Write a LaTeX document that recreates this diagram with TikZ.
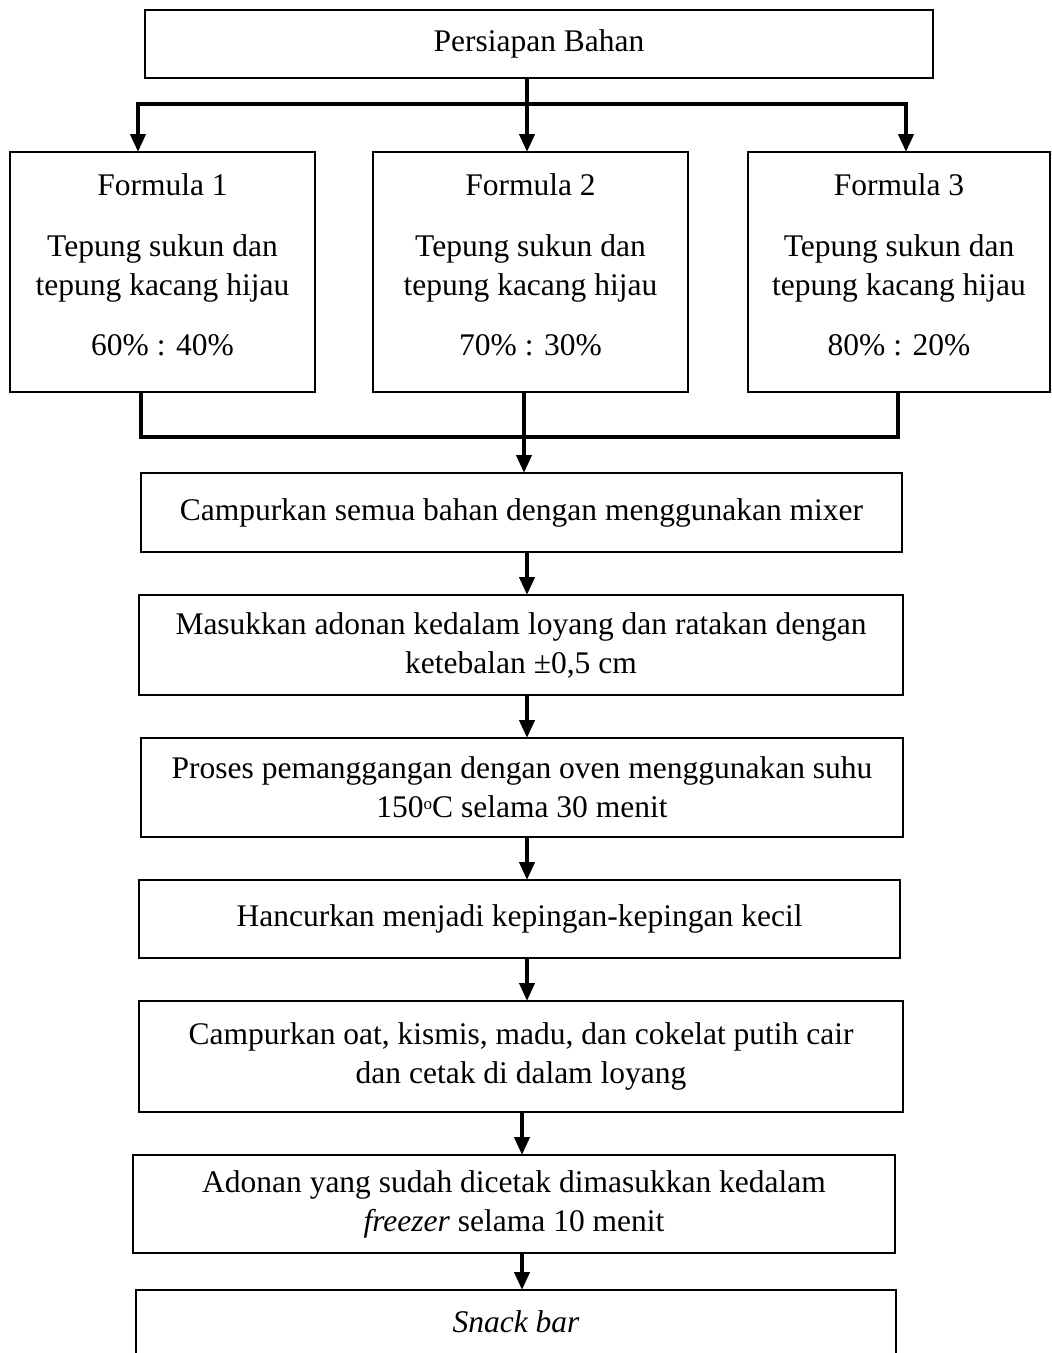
\documentclass[tikz,border=0pt]{standalone}
\usepackage{fontspec}
\setmainfont{Liberation Serif}
\usetikzlibrary{arrows.meta}
\newcommand{\degsup}{\raisebox{0.55ex}{\fontsize{17}{17}\selectfont o}}
\begin{document}
\begin{tikzpicture}[x=1pt,y=-1pt,
  box/.style={draw,line width=1.5pt,inner sep=0pt,outer sep=0pt,align=center,
    font=\fontsize{31.5}{39}\selectfont},
  txt/.style={inner sep=0pt,align=center,font=\fontsize{31.5}{39}\selectfont},
  conn/.style={line width=4pt},
  arr/.style={line width=4pt,-{Triangle[width=15pt,length=18pt]}}]
\useasboundingbox (0,0) rectangle (1052,1353);
\clip (0,0) rectangle (1052,1353);
\fill[white] (0,0) rectangle (1052,1353);
% boxes
\node[box,minimum width=788pt,minimum height=68pt] (top) at (539,44) {Persiapan Bahan};
\node[box,minimum width=305pt,minimum height=240pt] (f1) at (162.5,272) {};
\node[box,minimum width=315pt,minimum height=240pt] (f2) at (530.5,272) {};
\node[box,minimum width=302pt,minimum height=240pt] (f3) at (899,272) {};
\node[txt] (t1) at (162.5,265) {Formula 1\\[22pt]Tepung sukun dan\\tepung kacang hijau\\[21pt]60\% : 40\%};
\node[txt] (t2) at (530.5,265) {Formula 2\\[22pt]Tepung sukun dan\\tepung kacang hijau\\[21pt]70\% : 30\%};
\node[txt] (t3) at (899,265) {Formula 3\\[22pt]Tepung sukun dan\\tepung kacang hijau\\[21pt]80\% : 20\%};
\node[box,minimum width=761pt,minimum height=79pt] (c1) at (521.5,512.5) {Campurkan semua bahan dengan menggunakan mixer};
\node[box,minimum width=764pt,minimum height=100pt] (c2) at (521,645) {Masukkan adonan kedalam loyang dan ratakan dengan\\ketebalan ±0,5 cm};
\node[box,minimum width=762pt,minimum height=99pt] (c3) at (522,787.5) {Proses pemanggangan dengan oven menggunakan suhu\\150\degsup C selama 30 menit};
\node[box,minimum width=761pt,minimum height=78pt] (c4) at (519.5,919) {Hancurkan menjadi kepingan-kepingan kecil};
\node[box,minimum width=764pt,minimum height=111pt] (c5) at (521,1056.5) {Campurkan oat, kismis, madu, dan cokelat putih cair\\dan cetak di dalam loyang};
\node[box,minimum width=762pt,minimum height=98pt] (c6) at (514,1204) {Adonan yang sudah dicetak dimasukkan kedalam\\\textit{freezer} selama 10 menit};
\node[box,draw=none,minimum width=760pt,minimum height=64pt,anchor=north] (c7) at (516,1290) {\textit{Snack bar}};
\node[box,draw=none,minimum width=760pt,minimum height=120pt,anchor=north] (c7b) at (516,1290) {};
\draw[line width=1.5pt] (c7b.south west) -- (c7b.north west) -- (c7b.north east) -- (c7b.south east);
% split connectors
\coordinate (j0) at (527,104);
\coordinate (jL) at (138,104);
\coordinate (jR) at (906,104);
\draw[conn] (top.south -| j0) -- (j0);
\draw[conn,line cap=rect] (jL) -- (jR);
\draw[arr] (jL) -- (f1.north -| jL);
\draw[arr] (j0) -- (f2.north -| j0);
\draw[arr] (jR) -- (f3.north -| jR);
% merge connectors
\coordinate (mL) at (141,437);
\coordinate (mM) at (524,437);
\coordinate (mR) at (898,437);
\draw[conn] (f1.south -| mL) -- (mL);
\draw[conn] (f2.south -| mM) -- (mM);
\draw[conn] (f3.south -| mR) -- (mR);
\draw[conn,line cap=rect] (mL) -- (mR);
\draw[arr] (mM) -- (c1.north -| mM);
% chain
\coordinate (a1) at (527,0);
\coordinate (a2) at (522,0);
\draw[arr] (c1.south -| a1) -- (c2.north -| a1);
\draw[arr] (c2.south -| a1) -- (c3.north -| a1);
\draw[arr] (c3.south -| a1) -- (c4.north -| a1);
\draw[arr] (c4.south -| a1) -- (c5.north -| a1);
\draw[arr] (c5.south -| a2) -- (c6.north -| a2);
\draw[arr] (c6.south -| a2) -- (c7.north -| a2);
\end{tikzpicture}
\end{document}
